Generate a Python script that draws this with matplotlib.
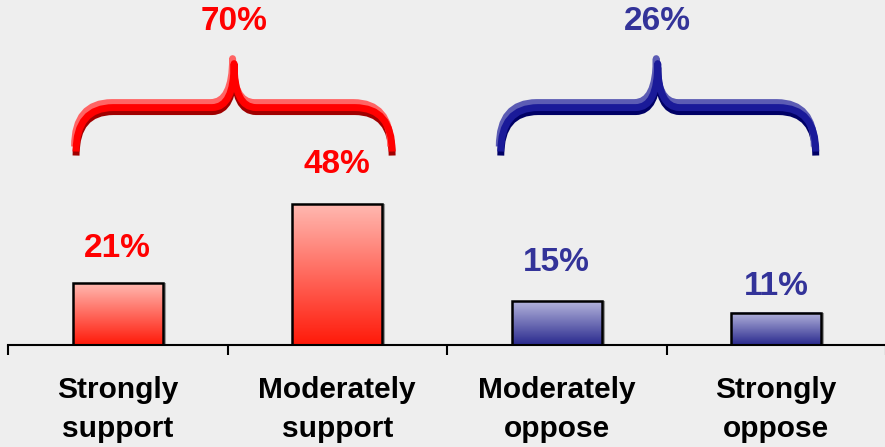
import numpy as np
import matplotlib.pyplot as plt
from matplotlib.path import Path
from matplotlib.patches import PathPatch
from matplotlib.colors import LinearSegmentedColormap
from matplotlib import transforms

categories = ["Strongly\nsupport", "Moderately\nsupport", "Moderately\noppose", "Strongly\noppose"]
values = [21, 48, 15, 11]
value_labels = ["21%", "48%", "15%", "11%"]
group_labels = ["70%", "26%"]

plt.rcParams['font.family'] = ['Liberation Sans', 'DejaVu Sans']
plt.rcParams['font.weight'] = 'bold'

bg = '#eeeeee'
red = '#ff0000'
blue = '#333399'

fig = plt.figure(figsize=(8.85, 4.47), dpi=100, facecolor=bg)
ax = fig.add_axes([8/885, 102/447, 878/885, 345/447])
ax.set_facecolor('none')

x = np.arange(len(values))
w = 0.41
grad = np.linspace(0, 1, 100).reshape(-1, 1)

red_cmap = LinearSegmentedColormap.from_list('r', ['#ff1a0a', '#ffb8b0'])
blue_cmap = LinearSegmentedColormap.from_list('b', ['#2a2a8e', '#b4b4dc'])

bars = ax.bar(x, values, width=w, facecolor='none', edgecolor='black', linewidth=1.8, zorder=3)
for i, b in enumerate(bars):
    cmap = red_cmap if i < 2 else blue_cmap
    x0 = b.get_x()
    ax.imshow(grad, extent=[x0, x0 + b.get_width(), 0, b.get_height()], origin='lower',
              cmap=cmap, aspect='auto', zorder=2)
    # light shadow
    sh = transforms.offset_copy(ax.transData, fig=fig, x=2, y=-1, units='dots')
    ax.bar(b.get_x() + w/2, b.get_height(), width=w, facecolor='none', edgecolor='#999999',
           linewidth=1.5, zorder=1, transform=sh)

offsets = [12, 13.5, 13, 9]
for i, v in enumerate(values):
    ax.text(x[i], v + offsets[i], value_labels[i], ha='center', va='center', fontsize=24,
            color=red if i < 2 else blue, fontweight='bold')

ax.set_xlim(-0.5, 3.5)
ax.set_ylim(0, 117.7)

def brace(L, R, C, yb, ym, yt, r, r2, cols):
    verts = [(L, yb), (L, ym), (L + r, ym), (C - r2, ym), (C, ym), (C, yt),
             (C, ym), (C + r2, ym), (R - r, ym), (R, ym), (R, yb)]
    codes = [Path.MOVETO, Path.CURVE3, Path.CURVE3, Path.LINETO, Path.CURVE3, Path.CURVE3,
             Path.CURVE3, Path.CURVE3, Path.LINETO, Path.CURVE3, Path.CURVE3]
    p = Path(verts, codes)
    # dark underside, light top edge, main colour on top
    for dx, dy, c in [(0, -4, cols[0]), (-1.5, 5, cols[2]), (0, 0, cols[1])]:
        t = transforms.offset_copy(ax.transData, fig=fig, x=dx, y=dy, units='dots')
        ax.add_patch(PathPatch(p, facecolor='none', edgecolor=c, lw=5, capstyle='butt',
                               joinstyle='round', transform=t, clip_on=False, zorder=4))

brace(-0.19, 1.25, 0.53, 66, 81, 96, 0.17, 0.1, ['#a00000', '#ff0000', '#ff6464'])
brace(1.745, 3.18, 2.46, 66, 81, 96, 0.17, 0.1, ['#000066', '#1a1a99', '#5c5cb4'])

ax.text(0.53, 110.5, group_labels[0], ha='center', va='center', fontsize=24, color=red, fontweight='bold')
ax.text(2.46, 110.5, group_labels[1], ha='center', va='center', fontsize=24, color=blue, fontweight='bold')

for s in ['top', 'right', 'left']:
    ax.spines[s].set_visible(False)
ax.spines['bottom'].set_linewidth(1.5)
ax.set_yticks([])
ax.set_xticks(x)
ax.set_xticklabels(categories, fontsize=21.5, fontweight='bold', linespacing=1.52)
ax.set_xticks(np.arange(-0.5, 4, 1), minor=True)
ax.tick_params(axis='x', which='major', length=0, pad=22)
ax.tick_params(axis='x', which='minor', direction='out', length=7, width=1.5)

fig.savefig('out.png', dpi=100, facecolor=bg)
